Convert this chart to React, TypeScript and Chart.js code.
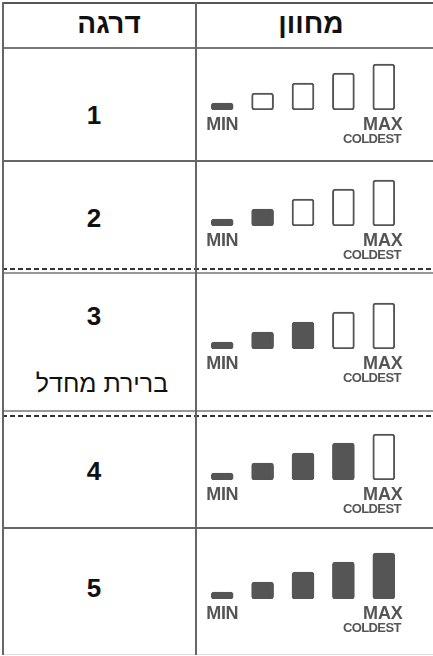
import React, { useEffect, useRef } from "react";
import { Chart, registerables } from "chart.js";

Chart.register(...registerables);

// ---- data ----
const headerLevel = "דרגה";
const headerIndicator = "מחוון";
const levels = ["1", "2", "3", "4", "5"];
const filledCounts = [1, 2, 3, 4, 5];
const slotLabels = ["MIN", "2", "3", "4", "MAX"];
const slotHeights = [0.7, 1.7, 2.7, 3.7, 4.6];
const defaultNote = "ברירת מחדל";
const defaultLevelIndex = 2;
const minLabel = "MIN";
const maxLabel = "MAX";
const coldestLabel = "COLDEST";

// ---- styles / layout ----
const GRAY = "#555555";
const FONT = "'Liberation Sans', Arial, 'DejaVu Sans', sans-serif";
const ROW_DIGIT_TOP = [102, 205, 303, 458, 575];
const ROW_BAR_BOTTOM = [110, 226, 349, 480, 599];
const CHART_LEFT = 202;
const PLOT_WIDTH = 202;
const PLOT_HEIGHT = 50;
const PAD_RIGHT = 8;
const PAD_BOTTOM = 40;

const indicatorLabels = {
  id: "indicatorLabels",
  afterDraw(chart: any) {
    const ctx = chart.ctx as CanvasRenderingContext2D;
    const xs = chart.scales.x;
    const bottom = chart.chartArea.bottom;
    const last = slotLabels.length - 1;
    ctx.save();
    ctx.fillStyle = GRAY;
    ctx.textBaseline = "alphabetic";
    ctx.font = `bold 18px ${FONT}`;
    (ctx as any).letterSpacing = "-0.4px";
    ctx.textAlign = "center";
    ctx.fillText(minLabel, xs.getPixelForValue(0), bottom + 20);
    (ctx as any).letterSpacing = "-0.2px";
    ctx.fillText(maxLabel, xs.getPixelForValue(last) - 1, bottom + 20);
    ctx.font = `bold 13px ${FONT}`;
    (ctx as any).letterSpacing = "-0.6px";
    ctx.textAlign = "right";
    ctx.fillText(coldestLabel, xs.getPixelForValue(last) + 17, bottom + 32.5);
    ctx.restore();
  },
};

function Indicator({ filled, barBottom }: { filled: number; barBottom: number }) {
  const ref = useRef<HTMLCanvasElement | null>(null);
  useEffect(() => {
    if (!ref.current) return;
    const chart = new Chart(ref.current, {
      type: "bar",
      data: {
        labels: slotLabels,
        datasets: [
          {
            data: slotHeights,
            backgroundColor: slotHeights.map((_, i) => (i < filled ? GRAY : "#ffffff")),
            borderColor: GRAY,
            borderWidth: 2,
            borderRadius: 3,
            borderSkipped: false,
            barThickness: 22,
          },
        ],
      },
      options: {
        animation: false,
        responsive: false,
        maintainAspectRatio: false,
        events: [],
        layout: { padding: { left: 0, top: 0, right: PAD_RIGHT, bottom: PAD_BOTTOM } },
        plugins: { legend: { display: false }, tooltip: { enabled: false } },
        scales: {
          x: { display: false, offset: true, grid: { display: false } },
          y: { display: false, min: 0, max: 5 },
        },
      },
      plugins: [indicatorLabels],
    });
    return () => chart.destroy();
  }, [filled]);

  const w = PLOT_WIDTH + PAD_RIGHT;
  const h = PLOT_HEIGHT + PAD_BOTTOM;
  return (
    <canvas
      ref={ref}
      width={w}
      height={h}
      style={{
        position: "absolute",
        left: CHART_LEFT,
        top: barBottom - PLOT_HEIGHT,
        width: w,
        height: h,
      }}
    />
  );
}

function HLine({ top, height, color, dashed }: { top: number; height: number; color: string; dashed?: boolean }) {
  return (
    <div
      style={{
        position: "absolute",
        left: 2,
        width: 431,
        top,
        height,
        background: dashed
          ? `repeating-linear-gradient(to right, ${color} 0px, ${color} 5px, transparent 5px, transparent 8px)`
          : color,
      }}
    />
  );
}

export default function App() {
  const textBase: React.CSSProperties = {
    position: "absolute",
    fontFamily: FONT,
    color: "#111",
    textAlign: "center",
    whiteSpace: "nowrap",
  };
  return (
    <div
      style={{
        position: "absolute",
        left: 0,
        top: 0,
        width: 433,
        height: 656,
        background: "#fff",
        overflow: "hidden",
      }}
    >
      {/* table lines */}
      <HLine top={2} height={2} color="#555" />
      <HLine top={47} height={2} color="#777" />
      <HLine top={160} height={2} color="#666" />
      <HLine top={268} height={2} color="#333" dashed />
      <HLine top={272} height={1.5} color="#999" />
      <HLine top={410} height={1.5} color="#999" />
      <HLine top={415} height={2} color="#333" dashed />
      <HLine top={527} height={2} color="#666" />
      <HLine top={654} height={1} color="#ddd" />
      <div style={{ position: "absolute", left: 2, top: 2, width: 2, height: 653, background: "#666" }} />
      <div style={{ position: "absolute", left: 194.5, top: 2, width: 2, height: 653, background: "#666" }} />

      {/* headers */}
      <div dir="rtl" style={{ ...textBase, left: 49, width: 120, top: 10, fontSize: 28, lineHeight: "28px", fontWeight: "bold" }}>
        {headerLevel}
      </div>
      <div dir="rtl" style={{ ...textBase, left: 251, width: 120, top: 10, fontSize: 28, lineHeight: "28px", fontWeight: "bold" }}>
        {headerIndicator}
      </div>

      {levels.map((lv, i) => (
        <React.Fragment key={lv}>
          <div
            style={{
              ...textBase,
              left: 34,
              width: 120,
              top: ROW_DIGIT_TOP[i],
              fontSize: 26,
              lineHeight: "26px",
              fontWeight: "bold",
            }}
          >
            {lv}
          </div>
          {i === defaultLevelIndex && (
            <div dir="rtl" style={{ ...textBase, left: 22, width: 160, top: 371, fontSize: 25, lineHeight: "25px" }}>
              {defaultNote}
            </div>
          )}
          <Indicator filled={filledCounts[i]} barBottom={ROW_BAR_BOTTOM[i]} />
        </React.Fragment>
      ))}
    </div>
  );
}
